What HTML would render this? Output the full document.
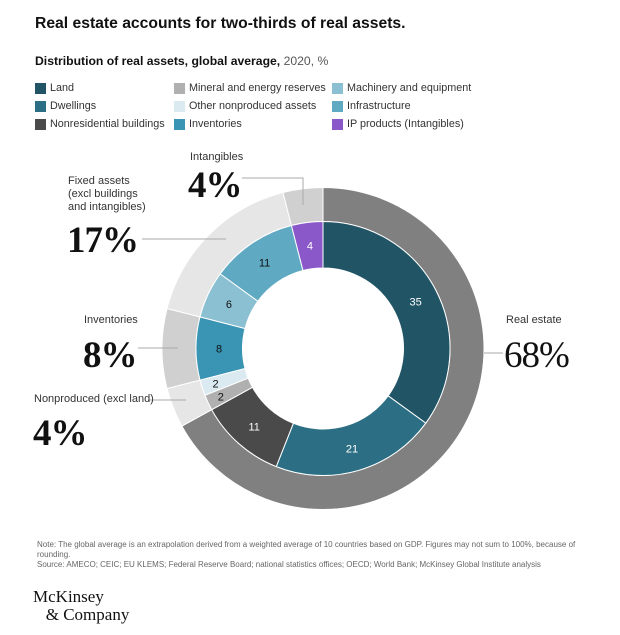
<!DOCTYPE html>
<html><head><meta charset="utf-8">
<style>
body{margin:0;width:620px;height:635px;background:#fff;position:relative;overflow:hidden;font-family:"Liberation Sans",sans-serif;color:#111}
.a{position:absolute;white-space:nowrap}
.sw{position:absolute;width:11px;height:11px}
.lg{position:absolute;font-size:10.8px;color:#333;white-space:nowrap}
.big{font-family:"Liberation Serif",serif;font-weight:bold;font-size:37px;position:absolute;line-height:1;letter-spacing:-1px}
.lbl{font-size:11px;color:#333;position:absolute;white-space:nowrap;line-height:13px}
</style></head><body>
<div class="a" style="left:35px;top:15px;font-size:15.7px;font-weight:bold">Real estate accounts for two-thirds of real assets.</div>
<div class="a" style="left:35px;top:54px;font-size:12.2px"><b>Distribution of real assets, global average,</b> <span style="color:#555">2020, %</span></div>

<div>
<div class="sw" style="left:35px;top:83px;background:#215566"></div><div class="lg" style="left:50px;top:82px">Land</div>
<div class="sw" style="left:35px;top:101px;background:#2c6f85"></div><div class="lg" style="left:50px;top:100px">Dwellings</div>
<div class="sw" style="left:35px;top:119px;background:#4a4a4a"></div><div class="lg" style="left:50px;top:118px">Nonresidential buildings</div>
<div class="sw" style="left:174px;top:83px;background:#b0b0b0"></div><div class="lg" style="left:189px;top:82px">Mineral and energy reserves</div>
<div class="sw" style="left:174px;top:101px;background:#daeaf0"></div><div class="lg" style="left:189px;top:100px">Other nonproduced assets</div>
<div class="sw" style="left:174px;top:119px;background:#3a94b4"></div><div class="lg" style="left:189px;top:118px">Inventories</div>
<div class="sw" style="left:332px;top:83px;background:#8bc0d2"></div><div class="lg" style="left:347px;top:82px">Machinery and equipment</div>
<div class="sw" style="left:332px;top:101px;background:#5fa9c3"></div><div class="lg" style="left:347px;top:100px">Infrastructure</div>
<div class="sw" style="left:332px;top:119px;background:#8a58c8"></div><div class="lg" style="left:347px;top:118px">IP products (Intangibles)</div>
</div>

<svg id="chart" width="620" height="635" style="position:absolute;left:0;top:0">
<g id="outer"></g><g id="inner"></g><g id="lines" stroke="#aaa" stroke-width="1" fill="none">
<polyline points="242,178 303,178 303,205"/>
<line x1="142" y1="239" x2="226" y2="239"/>
<line x1="138" y1="348" x2="178" y2="348"/>
<line x1="148" y1="400" x2="186" y2="400"/>
<line x1="484" y1="353" x2="503" y2="353"/>
</g></svg>

<div class="lbl" style="left:190px;top:151px">Intangibles</div>
<div class="big" style="left:188px;top:167px">4%</div>
<div class="lbl" style="left:68px;top:175px">Fixed assets<br>(excl buildings<br>and intangibles)</div>
<div class="big" style="left:67px;top:222px">17%</div>
<div class="lbl" style="left:84px;top:314px">Inventories</div>
<div class="big" style="left:83px;top:337px">8%</div>
<div class="lbl" style="left:34px;top:393px">Nonproduced (excl land)</div>
<div class="big" style="left:33px;top:415px">4%</div>
<div class="lbl" style="left:506px;top:314px">Real estate</div>
<div class="big" style="left:504px;top:337px;font-weight:normal">68%</div>

<div class="a" style="left:37px;top:540px;font-size:8px;color:#666;line-height:10px">Note: The global average is an extrapolation derived from a weighted average of 10 countries based on GDP. Figures may not sum to 100%, because of<br>rounding.<br>Source: AMECO; CEIC; EU KLEMS; Federal Reserve Board; national statistics offices; OECD; World Bank; McKinsey Global Institute analysis</div>
<div class="a" style="left:33px;top:588px;font-family:'Liberation Serif',serif;font-size:17px;line-height:18px;color:#111">McKinsey<br>&nbsp;&nbsp;&nbsp;&amp; Company</div>

<script>
const innerCategories=["Land","Dwellings","Nonresidential buildings","Mineral and energy reserves","Other nonproduced assets","Inventories","Machinery and equipment","Infrastructure","IP products"];
const innerValues=[35,21,11,2,2,8,6,11,4];
const innerColors=["#215566","#2c6f85","#4a4a4a","#b0b0b0","#daeaf0","#3a94b4","#8bc0d2","#5fa9c3","#8a58c8"];
const innerTextColors=["#fff","#fff","#fff","#111","#111","#111","#111","#111","#fff"];
const outerCategories=["Real estate","Nonproduced","Inventories","Fixed assets","Intangibles"];
const outerGroupSizes=[3,2,1,2,1];
const outerColors=["#808080","#e6e6e6","#d0d0d0","#e6e6e6","#d0d0d0"];
const cx=323,cy=348.5,r0=80.5,r1=127,r2=161;
const total=innerValues.reduce((a,b)=>a+b,0);
const ang=v=>v/total*2*Math.PI;
function pt(r,a){return [cx+r*Math.sin(a),cy-r*Math.cos(a)];}
function arc(ri,ro,a0,a1){const L=(a1-a0)>Math.PI?1:0;const p=pt(ro,a0),q=pt(ro,a1),s=pt(ri,a1),t=pt(ri,a0);
return `M${p[0]},${p[1]}A${ro},${ro} 0 ${L} 1 ${q[0]},${q[1]}L${s[0]},${s[1]}A${ri},${ri} 0 ${L} 0 ${t[0]},${t[1]}Z`;}
const NS="http://www.w3.org/2000/svg";
const gi=document.getElementById('inner'),go=document.getElementById('outer');
let c=0;
innerValues.forEach((v,i)=>{const a0=ang(c),a1=ang(c+v);c+=v;
const p=document.createElementNS(NS,'path');p.setAttribute('d',arc(r0,r1,a0,a1));p.setAttribute('fill',innerColors[i]);p.setAttribute('stroke','#fff');p.setAttribute('stroke-width','1');


gi.appendChild(p);
const m=pt(v<=2?113:104,(a0+a1)/2);const t=document.createElementNS(NS,'text');t.setAttribute('x',m[0]);t.setAttribute('y',m[1]+4);t.setAttribute('text-anchor','middle');t.setAttribute('font-size','11');t.setAttribute('font-family','Liberation Sans, sans-serif');t.setAttribute('fill',innerTextColors[i]);t.textContent=v;


gi.appendChild(t);});
let idx=0,cum=0;
outerGroupSizes.forEach((n,g)=>{let s=0;for(let k=0;k<n;k++)s+=innerValues[idx+k];idx+=n;const a0=ang(cum),a1=ang(cum+s);cum+=s;
const p=document.createElementNS(NS,'path');p.setAttribute('d',arc(r1,r2,a0,a1));p.setAttribute('fill',outerColors[g]);p.setAttribute('stroke','#fff');p.setAttribute('stroke-width','1');


go.appendChild(p);});
</script>
</body></html>
